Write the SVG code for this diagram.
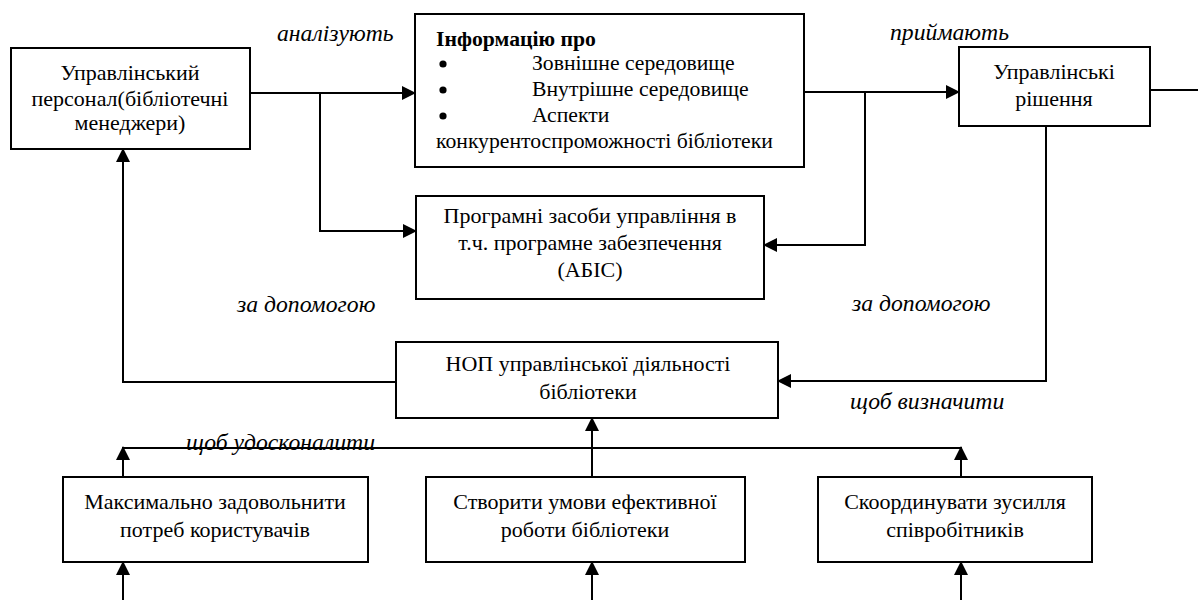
<svg xmlns="http://www.w3.org/2000/svg" width="1198" height="600" viewBox="0 0 1198 600">
<style>
.box{fill:#fff;stroke:#000;stroke-width:2}
.t{font-family:'Liberation Serif','DejaVu Serif',serif;font-size:22px;fill:#000;text-anchor:middle}
.tl{font-family:'Liberation Serif','DejaVu Serif',serif;font-size:21.7px;fill:#000}
.b{font-weight:bold}
.lab{font-family:'Liberation Serif','DejaVu Serif',serif;font-size:23.7px;font-style:italic;fill:#000}
.c{fill:none;stroke:#000;stroke-width:2}
.dot{fill:#000}
</style>
<defs>
<marker id="ah" markerWidth="14" markerHeight="14" refX="13" refY="7" orient="auto" markerUnits="userSpaceOnUse">
<path d="M0,0 L14,7 L0,14 Z" fill="#000"/>
</marker>
</defs>
<rect width="1198" height="600" fill="#fff"/>
<g id="connectors">
<path class="c" d="M250,93 H415" marker-end="url(#ah)"/>
<path class="c" d="M320,93 V231 H416" marker-end="url(#ah)"/>
<path class="c" d="M804,92 H959" marker-end="url(#ah)"/>
<path class="c" d="M865,92 V245 H764" marker-end="url(#ah)"/>
<path class="c" d="M1150,90 H1198"/>
<path class="c" d="M1046,126 V381 H778" marker-end="url(#ah)"/>
<path class="c" d="M396,382 H123 V149" marker-end="url(#ah)"/>
<path class="c" d="M592,477 V418" marker-end="url(#ah)"/>
<path class="c" d="M123,448 H961"/>
<path class="c" d="M123,477 V447" marker-end="url(#ah)"/>
<path class="c" d="M961,477 V447" marker-end="url(#ah)"/>
<path class="c" d="M123,600 V562" marker-end="url(#ah)"/>
<path class="c" d="M592,600 V562" marker-end="url(#ah)"/>
<path class="c" d="M961,600 V562" marker-end="url(#ah)"/>
</g>
<g id="labels">
<text class="lab" x="277" y="41">аналізують</text>
<text class="lab" x="890" y="40">приймають</text>
<text class="lab" x="237" y="312">за допомогою</text>
<text class="lab" x="852" y="311">за допомогою</text>
<text class="lab" x="850" y="409">щоб визначити</text>
<text class="lab" x="186" y="450">щоб удосконалити</text>
</g>
<g id="personnel">
<rect class="box" x="11" y="48" width="239" height="101"/>
<text class="t" x="130" y="80">Управлінський</text>
<text class="t" x="130" y="106">персонал(бібліотечні</text>
<text class="t" x="130" y="130">менеджери)</text>
</g>
<g id="info">
<rect class="box" x="415" y="14" width="389" height="153"/>
<text class="tl b" x="436" y="46">Інформацію про</text>
<circle class="dot" cx="443" cy="64" r="3.6"/>
<text class="tl" x="532" y="70">Зовнішне середовище</text>
<circle class="dot" cx="443" cy="90" r="3.6"/>
<text class="tl" x="532" y="96">Внутрішне середовище</text>
<circle class="dot" cx="443" cy="116" r="3.6"/>
<text class="tl" x="532" y="122">Аспекти</text>
<text class="tl" x="436" y="148">конкурентоспроможності бібліотеки</text>
</g>
<g id="decisions">
<rect class="box" x="959" y="47" width="191" height="79"/>
<text class="t" x="1054" y="79">Управлінські</text>
<text class="t" x="1054" y="106">рішення</text>
</g>
<g id="software">
<rect class="box" x="416" y="196" width="348" height="103"/>
<text class="t" x="590" y="223">Програмні засоби управління в</text>
<text class="t" x="590" y="250">т.ч. програмне забезпечення</text>
<text class="t" x="590" y="277">(АБІС)</text>
</g>
<g id="nop">
<rect class="box" x="396" y="342" width="382" height="76"/>
<text class="t" x="588" y="371">НОП управлінської діяльності</text>
<text class="t" x="588" y="399">бібліотеки</text>
</g>
<g id="satisfy">
<rect class="box" x="63" y="477" width="305" height="85"/>
<text class="t" x="215" y="509">Максимально задовольнити</text>
<text class="t" x="215" y="537">потреб користувачів</text>
</g>
<g id="conditions">
<rect class="box" x="426" y="477" width="319" height="85"/>
<text class="t" x="585" y="509">Створити умови ефективної</text>
<text class="t" x="585" y="537">роботи бібліотеки</text>
</g>
<g id="coordinate">
<rect class="box" x="818" y="477" width="274" height="85"/>
<text class="t" x="955" y="509">Скоординувати зусилля</text>
<text class="t" x="955" y="537">співробітників</text>
</g>
</svg>
